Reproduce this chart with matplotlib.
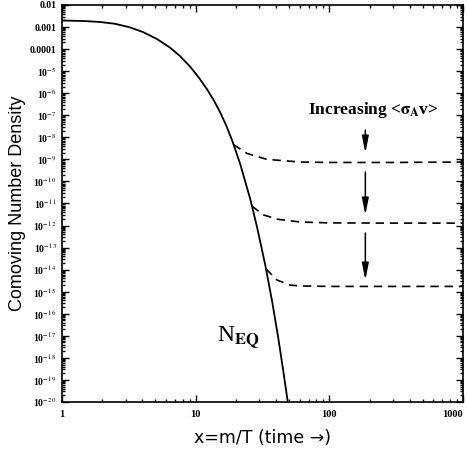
import numpy as np
import matplotlib
matplotlib.use("Agg")
import matplotlib.pyplot as plt
from matplotlib.ticker import FixedLocator, NullFormatter

plt.rcParams["mathtext.fontset"] = "stix"

# Curva de equilibrio
x_eq = [1.0, 1.487, 1.926, 2.495, 3.232, 4.044, 5.147, 6.442, 7.653, 9.095, 10.62, 12.20, 13.76,
        15.26, 16.93, 18.77, 21.54, 25.60, 28.89, 33.16, 37.41, 41.50, 45.23, 48.88]
logn_eq = [-2.703, -2.730, -2.771, -2.853, -3.016, -3.229, -3.546, -3.937, -4.322, -4.798,
           -5.311, -5.837, -6.354, -6.871, -7.469, -8.150, -9.211, -10.798, -12.113, -13.791,
           -15.469, -17.102, -18.599, -20.0]

# Curvas de desacople (discontinuas)
x_f1 = [19.2, 24.18, 34.14, 60.6, 100.0, 300.0, 1000.0]
logn_f1 = [-8.33, -8.73, -9.00, -9.12, -9.14, -9.14, -9.12]
x_f2 = [26.36, 32.2, 41.5, 60.6, 100.0, 300.0, 1000.0]
logn_f2 = [-11.12, -11.52, -11.72, -11.84, -11.88, -11.89, -11.89]
x_f3 = [33.6, 40.6, 51.0, 60.6, 100.0, 300.0, 1000.0]
logn_f3 = [-13.97, -14.47, -14.70, -14.74, -14.76, -14.76, -14.76]

# Flechas
x_flecha = 186
flechas = [(-7.67, -8.71), (-9.57, -11.52), (-12.34, -14.47)]

# Ticks
xticks = [1, 10, 100, 1000]
xlabels = ["1", "10", "100", "1000"]
yexp = list(range(-2, -21, -1))
ylabels = ["0.01", "0.001", "0.0001"] + [r"10$^{%d}$" % e for e in yexp[3:]]

fig = plt.figure(figsize=(4.67, 4.49), dpi=100)
ax = fig.add_axes([0.1328, 0.1047, 0.8586, 0.8842])

ax.plot(x_eq, 10.0 ** np.array(logn_eq), color="black", lw=1.3)
for xs, ls in [(x_f1, logn_f1), (x_f2, logn_f2), (x_f3, logn_f3)]:
    ax.plot(xs, 10.0 ** np.array(ls), color="black", lw=1.2, ls=(0, (5, 3.5)))

for y0, y1 in flechas:
    ax.annotate("", xy=(x_flecha, 10.0 ** y1), xytext=(x_flecha, 10.0 ** y0),
                arrowprops=dict(arrowstyle="-|>,head_length=1.0,head_width=0.2",
                                color="black", lw=1.1, shrinkA=0, shrinkB=0))

ax.text(214, 10.0 ** -6.76, r"Increasing <$\mathbf{\sigma_{\!A}}$v>", family="Liberation Serif",
        fontweight="bold", fontsize=12.5, ha="center", va="center")
ax.text(20.8, 10.0 ** -17.1, r"N$_{\mathbf{EQ}}$", family="Liberation Serif",
        fontsize=17, ha="center", va="center")

ax.set_xscale("log")
ax.set_yscale("log")
ax.set_xlim(1, 1000)
ax.set_ylim(1e-20, 1e-2)

ax.xaxis.set_major_locator(FixedLocator(xticks))
ax.set_xticklabels(xlabels)
ax.yaxis.set_major_locator(FixedLocator([10.0 ** e for e in yexp]))
ax.set_yticklabels(ylabels)
ax.xaxis.set_minor_locator(FixedLocator([m * 10.0 ** d for d in range(0, 3) for m in range(2, 10)]))
ax.yaxis.set_minor_locator(FixedLocator([m * 10.0 ** d for d in range(-20, -2) for m in range(2, 10)]))
ax.xaxis.set_minor_formatter(NullFormatter())
ax.yaxis.set_minor_formatter(NullFormatter())

ax.tick_params(which="both", direction="in", top=True, right=True, width=1.0)
ax.tick_params(which="major", length=5)
ax.tick_params(which="minor", length=2.5)
ax.tick_params(axis="y", labelsize=7, pad=4)
ax.tick_params(axis="x", labelsize=7.5, pad=6)
for lab in ax.get_xticklabels() + ax.get_yticklabels():
    lab.set_fontweight("bold")
    lab.set_family("Liberation Serif")
ax.get_xticklabels()[-1].set_ha("right")
for s in ax.spines.values():
    s.set_linewidth(1.2)

ax.set_ylabel("Comoving Number Density", family="Liberation Sans", fontsize=13, labelpad=3)
ax.set_xlabel("x=m/T (time \u2192)", family=["DejaVu Sans"], fontsize=12.5, labelpad=7)

fig.savefig("out.png", dpi=100)
